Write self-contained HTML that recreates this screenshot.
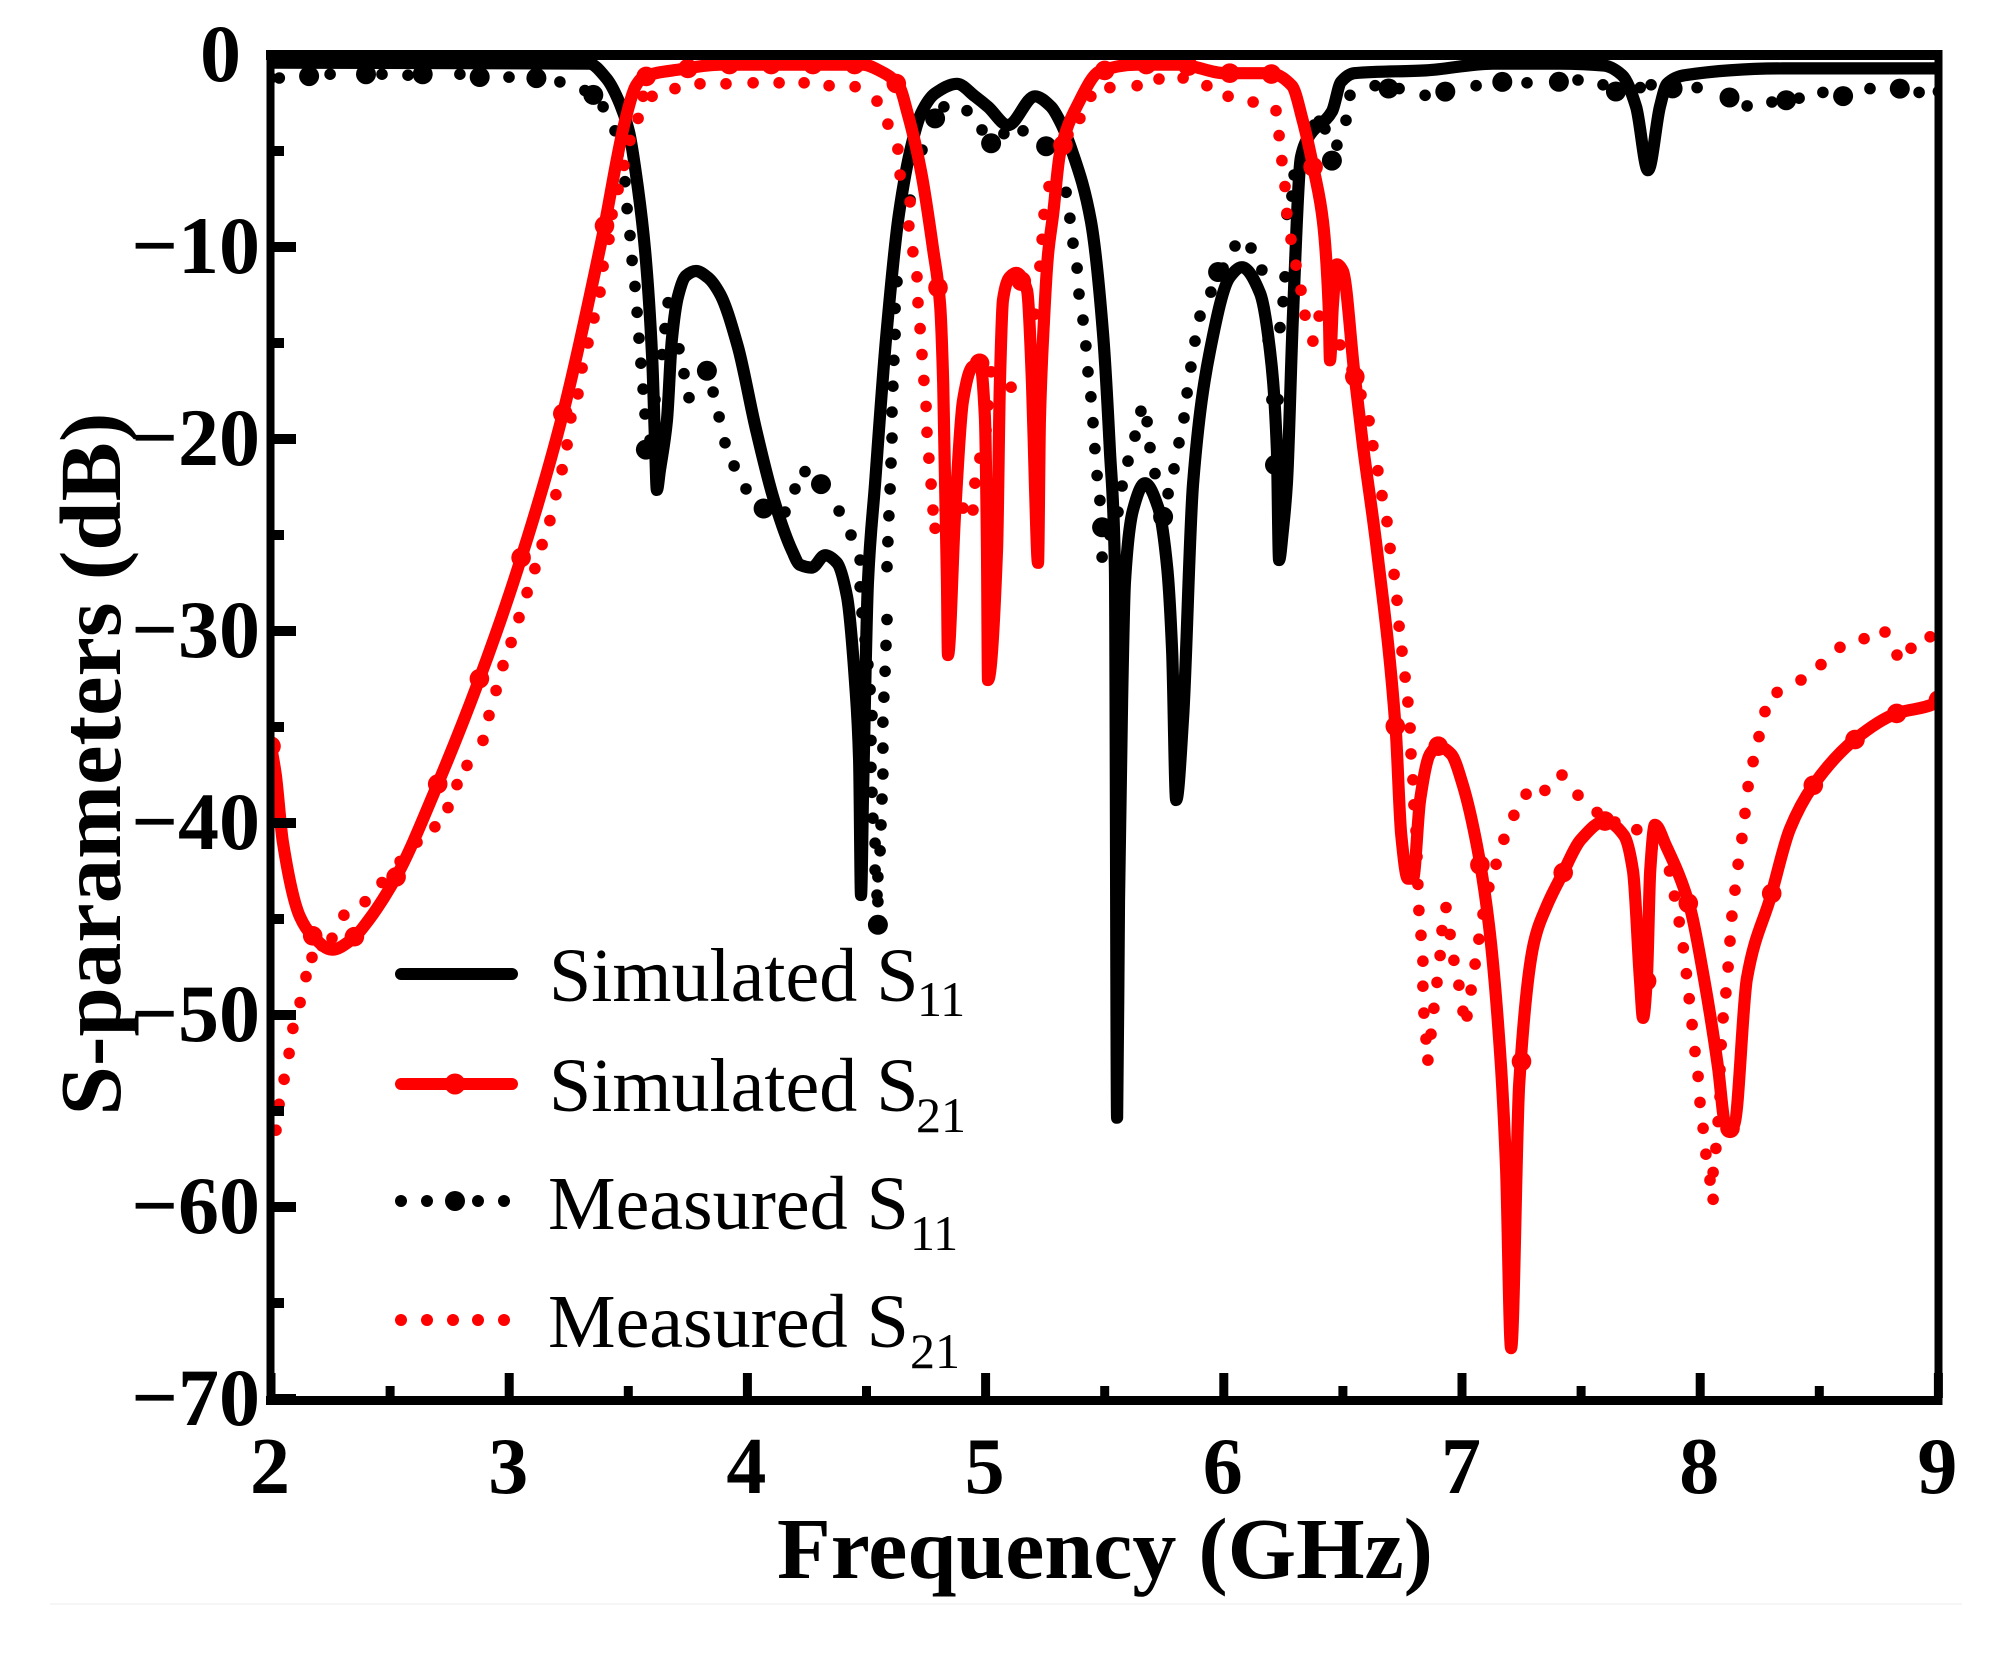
<!DOCTYPE html>
<html lang="en">
<head>
<meta charset="utf-8">
<title>S-parameters versus frequency</title>
<style>
html,body{margin:0;padding:0;background:#fff;}
body{width:1992px;height:1659px;overflow:hidden;}
svg{display:block;}
text{font-family:"Liberation Serif",serif;fill:#000;}
.tick{font-size:80px;font-weight:bold;}
.ytick{font-size:82px;font-weight:bold;}
.title{font-size:87px;font-weight:bold;}
.leg{font-size:76px;}
.sub{font-size:50px;}
</style>
</head>
<body>
<svg id="chart" xmlns="http://www.w3.org/2000/svg" width="1992" height="1659" viewBox="0 0 1992 1659">
  <rect x="0" y="0" width="1992" height="1659" fill="#fff"/>
  <rect x="50" y="1603" width="1912" height="2" fill="#f6f6f6"/>
  <defs><clipPath id="plot-clip"><rect x="270" y="55" width="1668" height="1345"/></clipPath></defs>
  <text class="title" font-size="88" text-anchor="middle" textLength="703" lengthAdjust="spacingAndGlyphs" transform="translate(120 764) rotate(-90)">S-parameters (dB)</text>
  <text class="title" x="1105" y="1578" text-anchor="middle" textLength="656" lengthAdjust="spacingAndGlyphs">Frequency (GHz)</text>
  <g id="series-layer" clip-path="url(#plot-clip)"></g>
  <g id="axis-layer"></g>
  <g>
    <g>
      <line x1="401" x2="512" y1="974" y2="974" stroke="#000" stroke-width="12" stroke-linecap="round"/>
      <text class="leg" x="549" y="1001">Simulated S</text>
      <text class="sub" x="917" y="1016">11</text>
    </g>
    <g>
      <line x1="401" x2="512" y1="1084" y2="1084" stroke="#f00" stroke-width="12" stroke-linecap="round"/>
      <circle cx="455" cy="1084" r="10.5" fill="#f00"/>
      <text class="leg" x="549" y="1111">Simulated S</text>
      <text class="sub" x="916" y="1132">21</text>
    </g>
    <g>
      <circle cx="401" cy="1201" r="6" fill="#000"/>
      <circle cx="427" cy="1201" r="6" fill="#000"/>
      <circle cx="455" cy="1201" r="10" fill="#000"/>
      <circle cx="478" cy="1201" r="6" fill="#000"/>
      <circle cx="504" cy="1201" r="6" fill="#000"/>
      <text class="leg" x="548" y="1229">Measured S</text>
      <text class="sub" x="910" y="1250">11</text>
    </g>
    <g>
      <circle cx="401" cy="1320" r="6" fill="#f00"/>
      <circle cx="427" cy="1320" r="6" fill="#f00"/>
      <circle cx="453" cy="1320" r="6" fill="#f00"/>
      <circle cx="478" cy="1320" r="6" fill="#f00"/>
      <circle cx="504" cy="1320" r="6" fill="#f00"/>
      <text class="leg" x="548" y="1347">Measured S</text>
      <text class="sub" x="910" y="1368">21</text>
    </g>
  </g>
</svg>
<script>
const xTickValues = [2, 3, 4, 5, 6, 7, 8, 9];
const xMinorTickValues = [2.5, 3.5, 4.5, 5.5, 6.5, 7.5, 8.5];
const yTickValues = [0, -10, -20, -30, -40, -50, -60, -70];
const yMinorTickValues = [-5, -15, -25, -35, -45, -55, -65];
const yTickLabels = ['0', '\u221210', '\u221220', '\u221230', '\u221240', '\u221250', '\u221260', '\u221270'];

const simS11Freq = [
  2.00,3.335,3.41,3.465,3.503,3.541,3.57,3.60,3.612,3.62,
  3.633,3.662,3.683,3.709,3.742,3.784,3.835,3.885,3.96,4.036,
  4.112,4.187,4.22,4.27,4.326,4.376,4.418,4.452,4.469,4.477,
  4.485,4.506,4.536,4.582,4.636,4.691,4.729,4.788,4.88,4.955,
  5.01,5.094,5.207,5.275,5.312,5.367,5.442,5.493,5.522,5.543,
  5.552,5.56,5.573,5.585,5.619,5.669,5.724,5.762,5.783,5.80,
  5.829,5.871,5.942,6.026,6.076,6.152,6.194,6.223,6.232,6.248,
  6.265,6.29,6.324,6.362,6.454,6.492,6.547,6.849,7.13,7.411,
  7.596,7.672,7.731,7.781,7.831,7.861,7.936,8.348,8.986,9
];
const simS11Db = [
  -0.4,-0.45,-1.25,-2.55,-4.0,-7.0,-10.15,-15.7,-20.05,-22.65,
  -21.6,-19.05,-14.8,-12.55,-11.5,-11.25,-11.6,-12.45,-15.2,-19.5,
  -23.2,-25.8,-26.55,-26.7,-26.05,-26.45,-28.2,-32.7,-36.7,-43.75,
  -38.8,-27.5,-22.3,-14.8,-8.3,-4.6,-3.05,-2.0,-1.5,-2.15,
  -2.7,-3.65,-2.15,-2.7,-3.45,-5.15,-8.65,-14.5,-20.6,-26.65,
  -55.35,-44,-33.6,-27.5,-23.7,-22.3,-23.55,-26.65,-31,-38.8,
  -34.5,-22.3,-15.4,-11.55,-11.05,-12.4,-15.4,-20.55,-26.3,-24.75,
  -22.3,-13.65,-5.3,-4.15,-2.95,-1.4,-0.95,-0.8,-0.45,-0.45,
  -0.55,-1.05,-2.7,-6.0,-2.7,-1.5,-1.05,-0.7,-0.7,-0.7
];

const simS21Freq = [
  2,2.02,2.05,2.122,2.172,2.256,2.341,2.41,2.528,2.699,
  2.869,3.04,3.221,3.392,3.486,3.532,3.562,3.717,3.885,4.485,
  4.56,4.636,4.674,4.729,4.78,4.809,4.822,4.838,4.842,4.871,
  4.905,4.943,4.976,4.997,5.006,5.01,5.048,5.06,5.073,5.102,
  5.128,5.174,5.195,5.207,5.22,5.228,5.245,5.262,5.283,5.312,5.388,
  5.48,5.631,5.816,6.005,6.194,6.286,6.332,6.379,6.416,6.44,
  6.446,6.458,6.475,6.5,6.547,6.585,6.643,6.722,6.745,6.773,
  6.794,6.824,6.866,6.9,6.954,7.004,7.063,7.113,7.164,7.185,
  7.206,7.24,7.302,7.353,7.42,7.5,7.6,7.68,7.718,7.747,
  7.76,7.776,7.79,7.81,7.857,7.957,8.016,8.075,8.104,8.125,
  8.143,8.196,8.297,8.377,8.474,8.654,8.822,8.98,9
];
const simS21Db = [
  -36,-37.5,-41,-44.9,-45.85,-46.6,-46.05,-45.05,-42.75,-38,
  -32.7,-26.6,-18.9,-9.4,-3.45,-1.6,-1.15,-0.75,-0.5,-0.5,
  -0.85,-1.6,-3.1,-6.05,-10.15,-13,-17.1,-27.5,-31.25,-24.05,
  -18,-16.25,-16.05,-18.85,-25.8,-32.55,-25.8,-17.1,-12.75,-11.55,
  -11.35,-12.25,-17.1,-22.3,-26.45,-19,-13.8,-10.4,-8.35,-5.15,-2.55,
  -0.85,-0.5,-0.5,-0.95,-0.95,-1.6,-3.45,-6.05,-8.65,-13,
  -15.9,-13,-10.9,-11.25,-16.45,-20.4,-25.8,-35.2,-40.65,-42.9,
  -42.9,-38.8,-36.4,-36,-36.4,-38.05,-41.2,-45.3,-52.75,-58,
  -67.35,-53.6,-46.25,-44.4,-42.7,-40.85,-39.9,-40.65,-42.5,-48.1,
  -50.15,-48.1,-42.5,-40.1,-41.2,-44.4,-48.1,-52.75,-55.6,-55.9,
  -55.7,-48.1,-43.8,-40.3,-38.05,-35.6,-34.3,-33.8,-33.6
];
const simS21MarkerFreq = [
  2,2.175,2.35,2.525,2.7,2.875,3.05,3.225,3.4,3.575,
  3.75,3.925,4.1,4.275,4.45,4.625,4.8,4.975,5.15,5.325,
  5.5,5.675,5.85,6.025,6.2,6.375,6.55,6.72,6.9,7.075,
  7.25,7.425,7.6,7.775,7.95,8.125,8.3,8.475,8.65,8.825,9
];

const measS11Freq = [
  2.00,2.035,2.16,2.248,2.399,2.466,2.575,2.642,2.793,2.877,
  2.999,3.113,3.213,3.318,3.364,3.394,3.444,3.457,3.486,3.495,
  3.507,3.516,3.528,3.537,3.545,3.553,3.562,3.57,3.574,3.591,
  3.612,3.642,3.654,3.667,3.713,3.734,3.755,3.83,3.856,3.881,
  3.906,3.944,3.994,4.07,4.158,4.2,4.242,4.309,4.385,4.435,
  4.473,4.473,4.481,4.494,4.506,4.515,4.523,4.519,4.519,4.523,
  4.527,4.536,4.536,4.544,4.548,4.548,4.548,4.557,4.561,4.565,
  4.569,4.569,4.569,4.573,4.578,4.582,4.586,
  4.586,4.59,4.594,4.599,4.603,4.607,4.607,4.611,4.615,4.62,
  4.62,4.628,4.683,4.733,4.788,4.825,4.922,4.985,5.023,5.077,
  5.157,5.254,5.338,5.354,5.367,5.384,5.392,5.409,5.421,5.43,
  5.442,5.451,5.459,5.468,5.48,5.489,5.489,5.522,5.556,5.573,
  5.598,5.627,5.652,5.678,5.69,5.711,5.745,5.766,5.791,5.812,
  5.833,5.846,5.862,5.879,5.9,5.946,5.971,5.997,6.047,6.114,
  6.16,6.186,6.202,6.215,6.228,6.236,6.249,6.257,6.265,6.286,
  6.295,6.341,6.379,6.4,6.425,6.454,6.475,6.513,6.53,6.635,
  6.694,6.736,6.845,6.933,7.059,7.168,7.273,7.403,7.487,7.592,
  7.646,7.748,7.794,7.89,7.987,8.121,8.197,8.301,8.364,8.415,
  8.515,8.604,8.713,8.839,8.919,9
];
const measS11Db = [
  -1.2,-1.2,-1.1,-1.0,-1.0,-1.0,-1.05,-1.0,-1.0,-1.15,
  -1.15,-1.2,-1.4,-1.85,-2.15,-2.7,-3.95,-5.2,-6.6,-8.0,
  -9.4,-10.7,-12.05,-13.4,-14.75,-16.05,-17.4,-18.7,-20.55,-20.05,
  -17.95,-15.6,-14.25,-12.9,-15.3,-16.6,-17.85,-16.45,-17.55,-18.85,
  -20.2,-21.4,-22.6,-23.65,-23.8,-22.6,-21.7,-22.35,-23.75,-25,
  -26.3,-27.7,-29.05,-30.45,-31.75,-33.05,-34.4,-35.7,-37.1,-38.4,
  -39.75,-41.05,-42.45,-43.75,-45.3,-44.1,-42.8,-41.45,-40.1,-38.75,
  -37.45,-36.1,-34.75,-33.45,-32.1,-30.75,-29.4,
  -26.65,-25.35,-24,-22.6,-21.25,-19.95,-18.6,-17.25,-15.9,-14.55,
  -13.2,-11.8,-7.55,-4.95,-3.3,-2.7,-2.9,-3.9,-4.6,-4.1,
  -3.95,-4.75,-7.15,-8.5,-9.8,-11.1,-12.45,-13.8,-15.15,-16.5,
  -17.8,-19.15,-20.5,-21.9,-23.2,-24.6,-26.15,-25,-23.8,-22.45,
  -21.15,-19.85,-18.55,-19.1,-20.45,-21.8,-24.05,-22.85,-21.55,-20.2,
  -18.9,-17.6,-16.25,-14.9,-13.6,-12.35,-11.35,-11.1,-9.95,-10.05,
  -11.2,-14.85,-17.95,-21.35,-17.95,-14.2,-12.85,-11.55,-8.3,-7.35,
  -6.25,-5.15,-3.65,-3.45,-3.85,-5.5,-4.7,-3.4,-2.1,-1.6,
  -1.75,-1.75,-2.1,-1.9,-1.6,-1.4,-1.45,-1.4,-1.3,-1.55,
  -1.9,-1.7,-1.55,-1.75,-1.7,-2.2,-2.65,-2.45,-2.35,-2.25,
  -1.95,-2.15,-1.75,-1.75,-1.95,-1.9
];
const measS11MarkerFreq = [
  2.16,2.399,2.637,2.876,3.114,3.353,3.574,3.83,4.068,4.309,
  4.548,4.788,5.023,5.254,5.489,5.745,5.976,6.215,6.454,6.692,
  6.93,7.169,7.407,7.646,7.884,8.123,8.361,8.6,8.838
];

const measS21Freq = [
  2.021,2.034,2.055,2.076,2.092,2.122,2.147,2.172,2.214,2.256,
  2.306,2.395,2.466,2.542,2.613,2.688,2.743,2.781,2.823,2.89,
  2.915,2.945,2.974,3.008,3.041,3.075,3.108,3.138,3.171,3.196,
  3.222,3.243,3.259,3.289,3.306,3.331,3.356,3.381,3.394,3.419,
  3.432,3.457,3.482,3.507,3.541,3.562,3.6,3.696,3.801,3.91,
  4.024,4.133,4.238,4.343,4.452,4.544,4.59,4.632,4.641,4.683,
  4.678,4.695,4.712,4.716,4.725,4.733,4.741,4.75,4.754,4.762,
  4.771,4.779,4.788,4.83,4.905,4.947,4.955,4.976,5.002,5.01,
  5.023,5.06,5.107,5.207,5.228,5.237,5.245,5.266,5.312,5.346,
  5.396,5.442,5.522,5.636,5.728,5.829,5.929,6.018,6.123,6.219,
  6.232,6.244,6.257,6.265,6.282,6.303,6.324,6.341,6.374,6.4,
  6.488,6.538,6.576,6.61,6.626,6.647,6.664,6.685,6.698,6.715,
  6.727,6.736,6.748,6.761,6.773,6.782,6.786,6.794,6.798,6.807,
  6.811,6.815,6.819,6.828,6.836,6.836,6.84,6.849,6.857,6.87,
  6.882,6.895,6.908,6.916,6.933,6.95,6.966,6.987,7.004,7.021,
  7.038,7.055,7.071,7.088,7.113,7.143,7.176,7.218,7.269,7.348,
  7.42,7.487,7.567,7.642,7.734,7.798,7.871,7.892,7.912,7.929,
  7.942,7.954,7.966,7.978,7.991,7.999,8.012,8.024,8.041,8.054,
  8.054,8.066,8.075,8.083,8.083,8.088,8.096,8.108,8.117,8.125,
  8.133,8.146,8.159,8.175,8.188,8.201,8.222,8.247,8.272,8.323,
  8.423,8.507,8.587,8.688,8.776,8.826,8.885,8.965
];
const measS21Db = [
  -56,-54.65,-53.35,-52,-50.7,-49.35,-48,-47,-46.4,-46,
  -44.8,-44.1,-43.1,-42,-41,-40.2,-39.2,-38,-37,-35.7,
  -34.4,-33.1,-31.8,-30.6,-29.3,-28,-26.75,-25.5,-24.25,-22.9,
  -21.6,-20.3,-18.9,-17.65,-16.3,-15,-13.7,-12.35,-11,-9.6,
  -8.3,-7,-5.75,-4.45,-3.3,-2.15,-2.15,-1.75,-1.5,-1.5,
  -1.45,-1.45,-1.45,-1.6,-1.65,-2.4,-3.6,-4.9,-6.25,-7.65,
  -8.9,-10.25,-11.55,-12.9,-14.25,-15.6,-16.95,-18.3,-19.65,-21,
  -22.35,-23.7,-24.65,-23.7,-23.6,-23.7,-22.3,-21,-19.55,-18.25,
  -16.5,-16.95,-17.3,-13.5,-11,-9.6,-8.3,-6.85,-5.15,-4.15,
  -3.3,-2.15,-1.7,-1.6,-1.25,-1.2,-1.6,-2.15,-2.45,-2.9,
  -4.2,-5.5,-6.85,-8.25,-9.6,-10.95,-12.25,-13.55,-14.9,-13.6,
  -15.1,-16.4,-17.7,-19.05,-20.35,-21.65,-22.95,-24.3,-25.7,-27.05,
  -28.4,-29.75,-31.05,-32.4,-33.7,-35.05,-36.4,-37.75,-39.05,-40.4,
  -41.75,-43.2,-44.55,-45.85,-47.2,-48.5,-49.9,-51.25,-52.35,-51,
  -49.65,-48.3,-46.9,-45.6,-44.4,-45.8,-47.15,-48.45,-49.8,-50.05,
  -48.7,-47.35,-46.05,-44.75,-43.35,-42.15,-40.85,-39.6,-38.5,-38.3,
  -37.5,-38.55,-39.45,-39.95,-40.35,-41.3,-42.5,-43.8,-45.15,-46.5,
  -47.85,-49.15,-50.5,-51.9,-53.2,-54.55,-55.9,-57.25,-58.6,-59.6,
  -58.2,-56.95,-55.55,-54.25,-52.85,-51.55,-50.15,-48.85,-47.5,-46.15,
  -44.85,-43.5,-42.15,-40.8,-39.5,-38.1,-36.8,-35.5,-34.2,-33.2,
  -32.55,-31.75,-30.85,-30.4,-30.05,-31.25,-30.9,-30.3
];

const SVG_NS = 'http://www.w3.org/2000/svg';
const PLOT_LEFT = 271, PLOT_RIGHT = 1938.4, PLOT_TOP = 55, PLOT_BOTTOM = 1399;
const FREQ_MIN = 2, FREQ_MAX = 9, DB_MAX = 0, DB_MIN = -70;

function xScale(f) { return PLOT_LEFT + (f - FREQ_MIN) * (PLOT_RIGHT - PLOT_LEFT) / (FREQ_MAX - FREQ_MIN); }
function yScale(d) { return PLOT_TOP + (DB_MAX - d) * (PLOT_BOTTOM - PLOT_TOP) / (DB_MAX - DB_MIN); }
function interp(freqs, dbs, f) {
  if (f <= freqs[0]) return dbs[0];
  for (let i = 1; i < freqs.length; i++) {
    if (f <= freqs[i]) {
      const span = freqs[i] - freqs[i - 1];
      if (span === 0) return dbs[i];
      return dbs[i - 1] + (dbs[i] - dbs[i - 1]) * (f - freqs[i - 1]) / span;
    }
  }
  return dbs[dbs.length - 1];
}
/* Monotone cubic path through the scaled data: smooth, with no overshoot at the notches. */
function smoothPath(freqs, dbs) {
  const xs = freqs.map(xScale);
  const ys = dbs.map(yScale);
  const n = xs.length;
  const slopes = [];
  for (let i = 0; i < n - 1; i++) slopes.push((ys[i + 1] - ys[i]) / (xs[i + 1] - xs[i]));
  const tans = [slopes[0]];
  for (let i = 1; i < n - 1; i++) {
    if (slopes[i - 1] * slopes[i] <= 0) {
      tans.push(0);
    } else {
      const h0 = xs[i] - xs[i - 1], h1 = xs[i + 1] - xs[i];
      const w0 = 2 * h1 + h0, w1 = h1 + 2 * h0;
      tans.push((w0 + w1) / (w0 / slopes[i - 1] + w1 / slopes[i]));
    }
  }
  tans.push(slopes[n - 2]);
  let d = 'M' + xs[0].toFixed(1) + ' ' + ys[0].toFixed(1);
  for (let i = 0; i < n - 1; i++) {
    const h = (xs[i + 1] - xs[i]) / 3;
    d += 'C' + (xs[i] + h).toFixed(1) + ' ' + (ys[i] + tans[i] * h).toFixed(1) + ' ' +
         (xs[i + 1] - h).toFixed(1) + ' ' + (ys[i + 1] - tans[i + 1] * h).toFixed(1) + ' ' +
         xs[i + 1].toFixed(1) + ' ' + ys[i + 1].toFixed(1);
  }
  return d;
}

const seriesLayer = document.getElementById('series-layer');
const axisLayer = document.getElementById('axis-layer');

function svgEl(tag, parent) {
  const el = document.createElementNS(SVG_NS, tag);
  parent.appendChild(el);
  return el;
}
function drawLine(parent, freqs, dbs, color) {
  const el = svgEl('path', parent);
  el.setAttribute('d', smoothPath(freqs, dbs));
  el.setAttribute('fill', 'none');
  el.setAttribute('stroke', color);
  el.setAttribute('stroke-width', '12.2');
  el.setAttribute('stroke-linejoin', 'round');
  el.setAttribute('stroke-linecap', 'round');
  return el;
}
function drawDot(parent, f, d, r, color) {
  const el = svgEl('circle', parent);
  el.setAttribute('cx', xScale(f).toFixed(1));
  el.setAttribute('cy', yScale(d).toFixed(1));
  el.setAttribute('r', r);
  el.setAttribute('fill', color);
  return el;
}

/* Measured S11 */
const gMeasS11 = svgEl('g', seriesLayer);


measS11Freq.forEach(function (f, i) {
  const dot = drawDot(gMeasS11, f, measS11Db[i], 5.8, '#000');
  
  
});
measS11MarkerFreq.forEach(function (f) {
  const marker = drawDot(gMeasS11, f, interp(measS11Freq, measS11Db, f), 10, '#000');
  
  
});

/* Simulated S11 */
const lineS11 = drawLine(seriesLayer, simS11Freq, simS11Db, '#000');



/* Measured S21 */
const gMeasS21 = svgEl('g', seriesLayer);


measS21Freq.forEach(function (f, i) {
  const dot = drawDot(gMeasS21, f, measS21Db[i], 5.8, '#f00');
  
  
});

/* Simulated S21 */
const gSimS21 = svgEl('g', seriesLayer);


const lineS21 = drawLine(gSimS21, simS21Freq, simS21Db, '#f00');


simS21MarkerFreq.forEach(function (f) {
  const marker = drawDot(gSimS21, f, interp(simS21Freq, simS21Db, f), 9.8, '#f00');
  
  
});

/* Axes */
function drawRule(x1, y1, x2, y2, w) {
  const el = svgEl('line', axisLayer);
  el.setAttribute('x1', x1);
  el.setAttribute('y1', y1);
  el.setAttribute('x2', x2);
  el.setAttribute('y2', y2);
  el.setAttribute('stroke', '#000');
  el.setAttribute('stroke-width', w);
  return el;
}
const frameTop = drawRule(266, 55, 1942, 55, 10);


const frameBottom = drawRule(266, 1400.5, 1942, 1400.5, 9);


const frameLeft = drawRule(270.5, 50, 270.5, 1405, 8);


const frameRight = drawRule(1938.5, 50, 1938.5, 1405, 8);



xTickValues.forEach(function (v) {
  const x = xScale(v);
  const tick = drawRule(x, 1373, x, 1398, 9);
  
  
  const label = svgEl('text', axisLayer);
  
  
  label.setAttribute('class', 'tick');
  label.setAttribute('x', x - 1);
  label.setAttribute('y', 1493);
  label.setAttribute('text-anchor', 'middle');
  label.textContent = String(v);
});
xMinorTickValues.forEach(function (v) {
  const x = xScale(v);
  const tick = drawRule(x, 1386, x, 1398, 9);
  
  
});
yTickValues.forEach(function (v, i) {
  const y = yScale(v);
  const tick = drawRule(272, y, 296, y, 10);
  
  
  const label = svgEl('text', axisLayer);
  
  
  label.setAttribute('class', 'ytick');
  label.setAttribute('x', v === 0 ? 241 : 260);
  label.setAttribute('y', y + 26);
  label.setAttribute('text-anchor', 'end');
  label.textContent = yTickLabels[i];
});
yMinorTickValues.forEach(function (v) {
  const y = yScale(v);
  const tick = drawRule(272, y, 284, y, 10);
  
  
});
</script>
</body>
</html>
